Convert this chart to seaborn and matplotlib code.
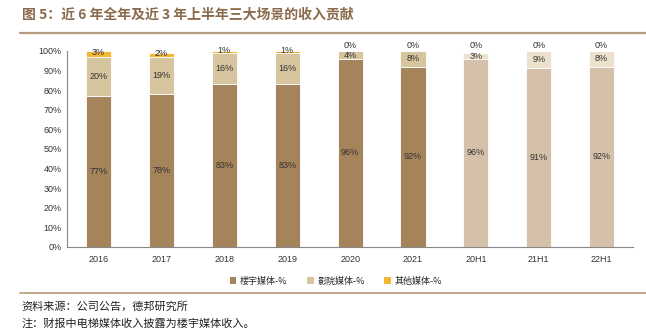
import matplotlib
matplotlib.use("Agg")
import matplotlib.pyplot as plt
from matplotlib.patches import Patch
from matplotlib.lines import Line2D
import numpy as np
import seaborn as sns

sns.set_theme(style="white")
plt.rcParams["font.family"] = ["Liberation Sans", "Noto Sans CJK SC", "DejaVu Sans"]

categories = ["2016", "2017", "2018", "2019", "2020", "2021", "20H1", "21H1", "22H1"]
building = [77, 78, 83, 83, 96, 92, 96, 91, 92]
cinema = [20, 19, 16, 16, 4, 8, 3, 9, 8]
other = [3, 2, 1, 1, 0, 0, 0, 0, 0]
series_names = ["楼宇媒体-%", "影院媒体-%", "其他媒体-%"]
y_ticks = [0, 10, 20, 30, 40, 50, 60, 70, 80, 90, 100]

full_colors = ["#a5845b", "#d6c59e", "#f4b637"]
half_colors = ["#d5c1aa", "#ebe1cc", "#f4d591"]

fig = plt.figure(figsize=(6.46, 3.30), dpi=100)
ax = fig.add_axes([0.104, 0.252, 0.876, 0.594])

series = [building, cinema, other]
bottoms = np.zeros(len(categories))
for i, vals in enumerate(series):
    n_before = len(ax.patches)
    sns.barplot(x=categories, y=vals, bottom=bottoms.copy(), color=full_colors[i],
                width=0.4, ax=ax, edgecolor="white", linewidth=0.6, saturation=1)
    new = ax.patches[n_before:]
    for j, p in enumerate(new):
        if categories[j].endswith("H1"):
            p.set_facecolor(half_colors[i])
    # value labels
    for j, v in enumerate(vals):
        if v == 0:
            y = max(bottoms[j], 100) + 2.8
        elif i == 2:
            y = bottoms[j] + v / 2 + 0.5
        elif i == 1 and v < 5:
            y = bottoms[j] + v / 2 - 0.5
        else:
            y = bottoms[j] + v / 2
        ax.text(j, y, f"{v}%", ha="center", va="center", fontsize=6.5, color="#333333",
                clip_on=False)
    bottoms += np.array(vals)

ax.set_xlim(-0.5, len(categories) - 0.5)
ax.set_ylim(0, 100)
ax.set_yticks(y_ticks)
ax.set_yticklabels([f"{t}%" for t in y_ticks], fontsize=6.5, color="#333333")
ax.set_xticks(range(len(categories)))
ax.set_xticklabels(categories, fontsize=6.5, color="#333333")
ax.set_xlabel("")
ax.set_ylabel("")
ax.tick_params(axis="x", length=0, pad=6)
ax.set_xticks(np.arange(-0.5, len(categories), 1), minor=True)
ax.tick_params(axis="x", which="minor", direction="in", length=3, color="#888888", width=0.6)
ax.tick_params(axis="y", direction="in", length=3, color="#888888", width=0.6, pad=4)
for s in ["top", "right"]:
    ax.spines[s].set_visible(False)
for s in ["left", "bottom"]:
    ax.spines[s].set_color("#888888")
    ax.spines[s].set_linewidth(0.8)

handles = [Patch(facecolor=c, edgecolor="none") for c in full_colors]
fig.legend(handles, series_names, loc="center", bbox_to_anchor=(0.52, 0.148), ncol=3,
           frameon=False, handlelength=0.7, handleheight=0.7,
           columnspacing=2.2, handletextpad=0.4,
           prop={"family": ["Noto Sans CJK SC"], "size": 6.5})

fig.text(0.034, 0.955, "图 5：近 6 年全年及近 3 年上半年三大场景的收入贡献", fontsize=10,
         fontweight="bold", color="#8a6a4b", va="center", ha="left",
         family=["Noto Sans CJK SC", "DejaVu Sans"])
fig.add_artist(Line2D([0.031, 1.0], [0.9, 0.9], color="#b69a7c", linewidth=1.6))
fig.add_artist(Line2D([0.031, 1.0], [0.112, 0.112], color="#b69a7c", linewidth=1.2))
fig.text(0.034, 0.07, "资料来源：公司公告，德邦研究所", fontsize=8, color="#222222",
         va="center", ha="left", family=["Noto Sans CJK SC"])
fig.text(0.034, 0.02, "注：财报中电梯媒体收入披露为楼宇媒体收入。", fontsize=8, color="#222222",
         va="center", ha="left", family=["Noto Sans CJK SC"])

fig.savefig("out.png", dpi=100)
